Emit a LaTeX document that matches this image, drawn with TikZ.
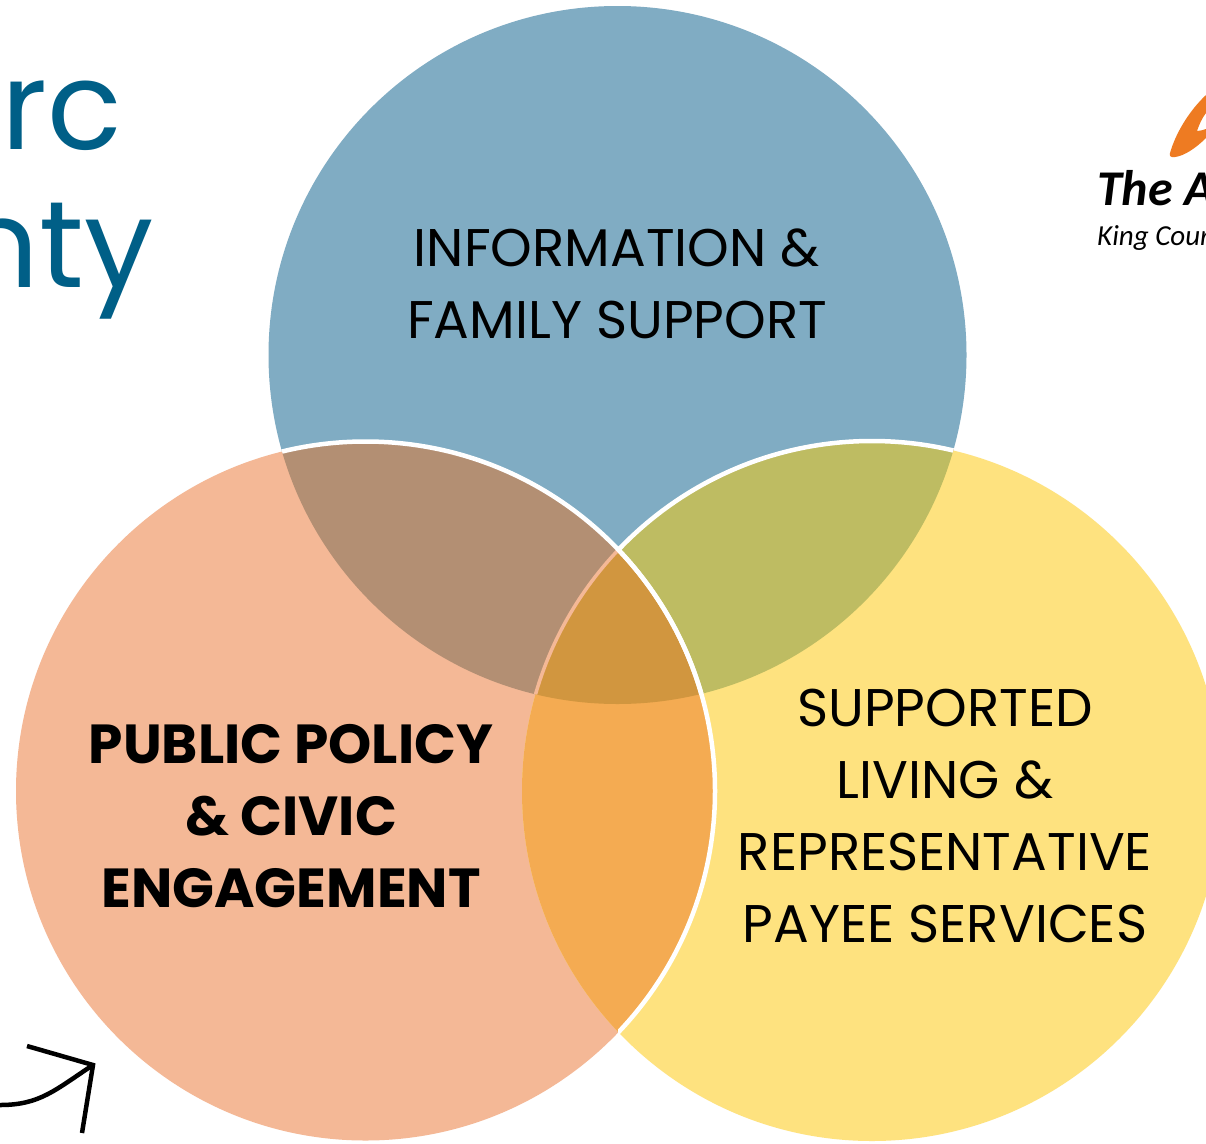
\documentclass[tikz,border=0pt]{standalone}
\usepackage{fontspec}
\setmainfont{Poppins}
\newfontfamily\logofont{Carlito}
\definecolor{blueC}{HTML}{80ACC3}
\definecolor{peachC}{HTML}{F4B896}
\definecolor{yellowC}{HTML}{FEE27F}
\definecolor{brownC}{HTML}{B38F73}
\definecolor{oliveC}{HTML}{BEBC62}
\definecolor{amberC}{HTML}{F4AB52}
\definecolor{ochreC}{HTML}{D1963F}
\definecolor{titleC}{HTML}{005F87}
\definecolor{logoC}{HTML}{EE7B22}
\begin{document}
\begin{tikzpicture}[x=1pt,y=-1pt,
    label/.style={align=center,font=\fontsize{53}{72}\selectfont,text=black},
    title/.style={anchor=base west,font=\fontsize{123}{123}\selectfont,text=titleC}]
    \useasboundingbox (0,0) rectangle (1206,1143);
    \fill[white] (0,0) rectangle (1206,1143);
    \def\topc{(617.5,355) circle (349)}
    \def\leftc{(365.5,791) circle (349.5)}
    \def\rightc{(872,791) circle (350)}

    \fill[blueC] \topc;
    \fill[peachC] \leftc;
    \fill[yellowC] \rightc;
    % overlaps
    \begin{scope}
      \clip \topc;
      \fill[brownC] \leftc;
      \fill[oliveC] \rightc;
    \end{scope}
    \begin{scope}
      \clip \leftc;
      \fill[amberC] \rightc;
      \clip \topc;
      \fill[ochreC] \rightc;
    \end{scope}
    % white rims
    \begin{scope}
      \clip \topc;
      \draw[peachC,line width=3.5pt] \rightc;
      \draw[white,line width=4.5pt] \leftc;
    \end{scope}
    \begin{scope}
      \clip (618,0) rectangle (1206,1143);
      \draw[white,line width=4.5pt] \leftc;
    \end{scope}
    \begin{scope}
      \clip \topc;
      \clip (618,0) rectangle (1206,560);
      \draw[white,line width=4.5pt] \rightc;
    \end{scope}

    \node[label] (info) at (617,284) {INFORMATION \&\\FAMILY SUPPORT};
    \node[label,font=\fontsize{55}{72}\selectfont\bfseries] (policy) at (291,816) {PUBLIC POLICY\\\& CIVIC\\ENGAGEMENT};
    \node[label] (living) at (945,816) {SUPPORTED\\LIVING \&\\REPRESENTATIVE\\PAYEE SERVICES};

    \node[title] (arc) at (-2,149) {rc};
    \node[title] (county) at (-43,287) {nty};

    % logo
    \fill[logoC] (1170,153) .. controls (1176,132) and (1190,110) .. (1206,95)
      -- (1206,113) .. controls (1202,118) and (1199,125) .. (1197,131)
      .. controls (1200,131) and (1203,130) .. (1206,129)
      -- (1206,138) .. controls (1196,148) and (1184,156) .. (1175,157)
      .. controls (1171,158) and (1169,156) .. (1170,153) -- cycle;
    \node[anchor=base west,inner sep=0pt,font=\logofont\bfseries\itshape\fontsize{50}{50}\selectfont] (logoa) at (1097,205) {The A};
    \node[anchor=base west,inner sep=0pt,font=\logofont\itshape\fontsize{29}{29}\selectfont] (logob) at (1097,245) {King Cour};

    % arrow
    \coordinate (tail) at (0,1105);
    \coordinate (tip) at (93,1065);
    \coordinate (barba) at (27,1046);
    \coordinate (barbb) at (82,1133);
    \draw[black,line width=4.5pt] (tail) .. controls (40,1105) and (55,1090) .. (tip);
    \draw[black,line width=4.5pt] (barba) -- (tip) -- (barbb);
\end{tikzpicture}
\end{document}
